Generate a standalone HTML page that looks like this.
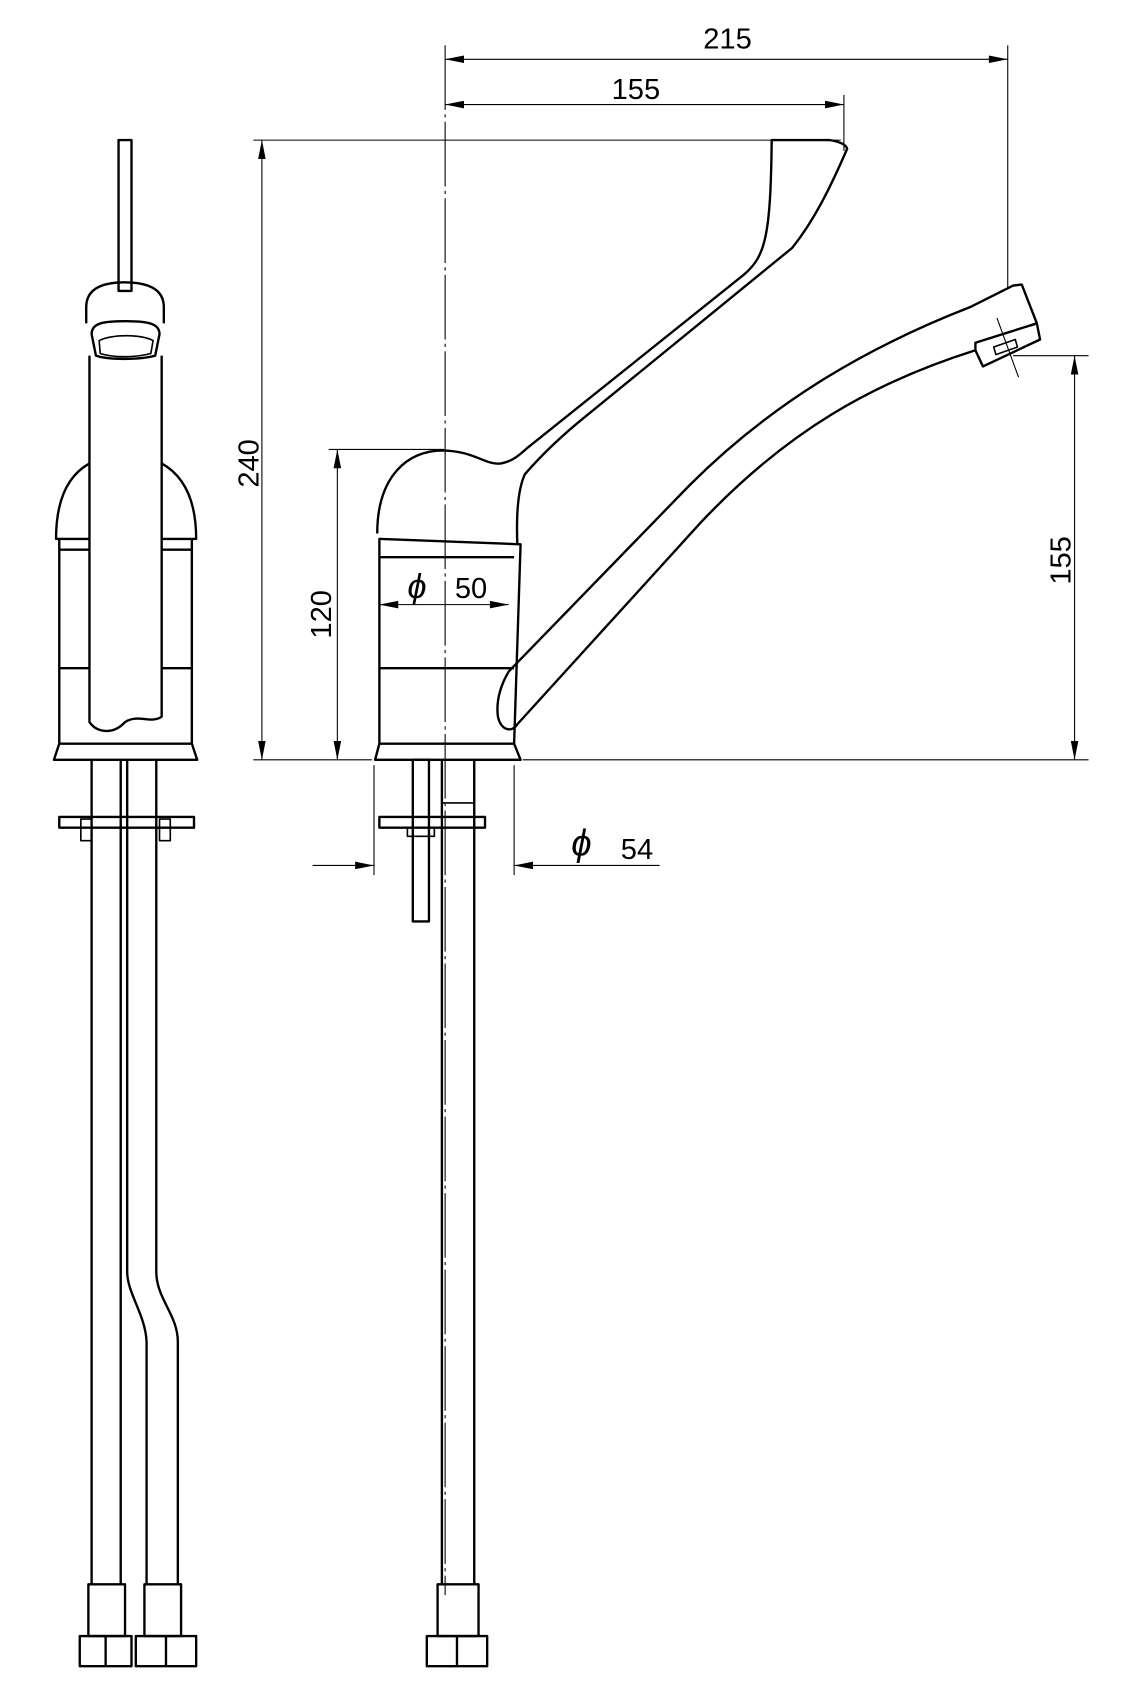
<!DOCTYPE html>
<html><head><meta charset="utf-8"><style>html,body{margin:0;padding:0;background:#fff}svg{display:block}</style></head>
<body>
<svg width="1136" height="1691" viewBox="0 0 1054 1569" preserveAspectRatio="none" xmlns="http://www.w3.org/2000/svg">
<defs>
<marker id="a" viewBox="0 0 10 6" refX="10" refY="3" markerWidth="10" markerHeight="6" orient="auto-start-reverse" markerUnits="userSpaceOnUse"><path d="M0,0 L10,3 L0,6 Z" fill="#000"/></marker>
<marker id="b" viewBox="0 0 20 8" refX="20" refY="4" markerWidth="20" markerHeight="7" orient="auto-start-reverse" markerUnits="userSpaceOnUse"><path d="M0,0 L20,4 L0,8 Z" fill="#000"/></marker>
</defs>
<g fill="none" stroke="#000" stroke-width="1">
<!-- dimension / extension lines -->
<line x1="413" y1="42" x2="413" y2="1480" stroke-dasharray="60 4 3 4"/>
<line x1="935" y1="42" x2="935" y2="268"/>
<line x1="783" y1="88" x2="783" y2="140"/>
<line x1="413" y1="55" x2="935" y2="55" marker-start="url(#b)" marker-end="url(#b)"/>
<line x1="413" y1="97" x2="783" y2="97" marker-start="url(#b)" marker-end="url(#b)"/>
<line x1="235" y1="130" x2="780" y2="130"/>
<line x1="243" y1="130" x2="243" y2="705" marker-start="url(#b)" marker-end="url(#b)"/>
<line x1="235" y1="705" x2="345" y2="705"/>
<line x1="305" y1="417" x2="412" y2="417"/>
<line x1="313" y1="417" x2="313" y2="705" marker-start="url(#b)" marker-end="url(#b)"/>
<line x1="940" y1="330" x2="1010" y2="330"/>
<line x1="485" y1="705" x2="1010" y2="705"/>
<line x1="997" y1="330" x2="997" y2="705" marker-start="url(#b)" marker-end="url(#b)"/>
<line x1="352" y1="561" x2="472" y2="561" marker-start="url(#b)" marker-end="url(#b)"/>
<line x1="347" y1="710" x2="347" y2="812"/>
<line x1="477" y1="710" x2="477" y2="812"/>
<line x1="290" y1="803" x2="347" y2="803" marker-end="url(#b)"/>
<line x1="612" y1="803" x2="477" y2="803" marker-end="url(#b)"/>
</g>
<g font-family="Liberation Sans, sans-serif" font-size="27" fill="#000">
<text x="675" y="45" text-anchor="middle">215</text>
<text x="590" y="92" text-anchor="middle">155</text>
<text transform="translate(240,430) rotate(-90)" text-anchor="middle">240</text>
<text transform="translate(307,570) rotate(-90)" text-anchor="middle">120</text>
<text transform="translate(993,520) rotate(-90)" text-anchor="middle">155</text>
<text x="378" y="555" font-size="32" font-style="italic">ϕ</text>
<text x="422" y="555">50</text>
<text x="530" y="794" font-size="34" font-style="italic">ϕ</text>
<text x="576" y="797">54</text>
</g>
<g fill="none" stroke="#000" stroke-width="2.2" stroke-linejoin="round">
<!-- right view: body -->
<path d="M348,705 L352,690 L477,690 L483,705 Z"/>
<path d="M352,690 L352,500 L483,505 L477,690"/>
<line x1="352" y1="517" x2="477" y2="517"/>
<line x1="352" y1="620" x2="477" y2="620"/>
<!-- handle / cap -->
<path d="M350,495 C350,440 380,418 410,418 C440,418 450,432 465,430 C475,428 480,424 490,415 L690,255 C710,238 715,220 716,130 L770,130 C782,132 785,135 786,138 C770,175 755,205 735,230 L545,385 C520,405 500,425 487,440 C480,455 479,480 480,505"/>
<!-- spout -->
<path d="M472,623 C465,635 460,650 462,665 C465,678 475,680 480,672 L650,485 C730,400 810,355 905,325"/>
<path d="M472,623 L640,450 C720,370 810,320 900,285 L940,265 L948,264 L962,300 L956,302"/>
<path d="M905,325 L905,318 L962,300 L965,315 L912,340 Z"/>
<path d="M922,322 L942,315 L944,322 L924,329 Z" stroke-width="1.5"/>
<line x1="925" y1="295" L x2="945" y2="350" stroke-width="1"/>
<!-- right view: tubes -->
<rect x="383" y="705" width="15" height="150"/>
<path d="M410,705 L410,1470 M440,705 L440,1470" />
<path d="M410,705 L410,745 L440,745 L440,705" stroke-width="1.5"/>
<rect x="352" y="758" width="98" height="10"/>
<rect x="378" y="768" width="25" height="8" stroke-width="1.5"/>
<rect x="406" y="1470" width="38" height="48"/>
<rect x="396" y="1518" width="56" height="28"/>
<line x1="424" y1="1518" x2="424" y2="1546"/>
<!-- left view: stem & head -->
<rect x="110" y="130" width="12" height="140"/>
<path d="M80,300 L80,285 C80,268 95,262 116,262 C137,262 152,268 152,285 L152,300"/>
<path d="M85,310 C85,300 95,298 116,298 C137,298 148,300 148,310 L144,330 C130,334 100,334 89,330 Z"/>
<path d="M92,316 C105,310 130,310 142,316 L140,328 C125,332 105,332 93,328 Z" stroke-width="1.5"/>
<path d="M83,330 L83,670 C90,680 105,682 116,670 C128,662 140,672 150,665 L150,330"/>
<path d="M83,430 C65,440 52,460 52,500 L83,500 M150,430 C168,440 182,460 182,500 L150,500"/>
<path d="M55,500 L55,690 M178,500 L178,690"/>
<path d="M55,510 L83,510 M150,510 L178,510 M55,620 L83,620 M150,620 L178,620"/>
<path d="M50,705 L55,690 L178,690 L183,705 Z"/>
<!-- left hoses -->
<path d="M85,705 L85,1470 M112,705 L112,1470"/>
<path d="M118,705 L118,1180 C118,1200 135,1220 136,1245 L136,1470 M145,705 L145,1180 C145,1205 165,1220 165,1245 L165,1470"/>
<rect x="55" y="758" width="125" height="10"/>
<rect x="75" y="760" width="10" height="20" stroke-width="1.5"/>
<rect x="148" y="760" width="10" height="20" stroke-width="1.5"/>
<rect x="82" y="1470" width="34" height="48"/>
<rect x="74" y="1518" width="48" height="28"/>
<line x1="98" y1="1518" x2="98" y2="1546"/>
<rect x="134" y="1470" width="34" height="48"/>
<rect x="126" y="1518" width="56" height="28"/>
<line x1="154" y1="1518" x2="154" y2="1546"/>
</g>
</svg>
</body></html>
